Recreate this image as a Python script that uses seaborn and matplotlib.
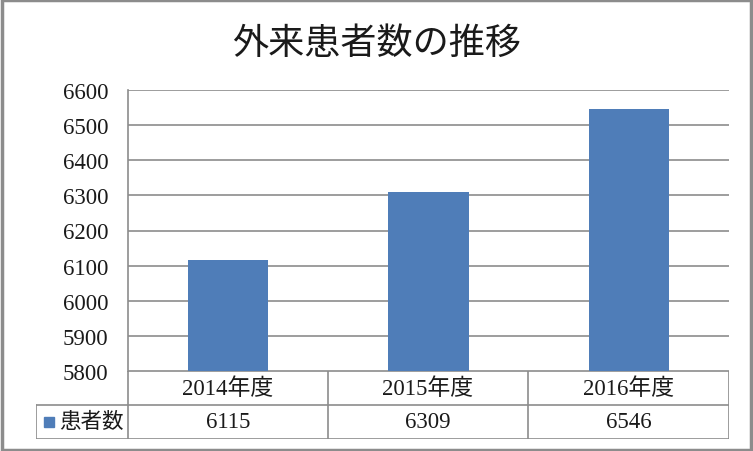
import matplotlib
matplotlib.use("Agg")

import matplotlib.pyplot as plt
import seaborn as sns
import pandas as pd
from matplotlib.patches import Rectangle

sns.set_theme(style="white")
plt.rcParams["font.family"] = ["Liberation Serif", "Noto Sans CJK JP", "DejaVu Sans"]

# data
years = ["2014年度", "2015年度", "2016年度"]
patients = [6115, 6309, 6546]
series_name = "患者数"
title = "外来患者数の推移"
y_ticks = [5800, 5900, 6000, 6100, 6200, 6300, 6400, 6500, 6600]

BAR_COLOR = "#4F7DB8"
GRID = "#8c8c8c"
TXT = "#1a1a1a"
W, H = 753, 452

df = pd.DataFrame({"year": years, "count": patients})

fig = plt.figure(figsize=(W / 100, H / 100), dpi=100)

# outer chart border
fig.add_artist(Rectangle((0.002, 0.003), 0.995, 0.994, transform=fig.transFigure,
                         fill=False, edgecolor="#8c8c8c", linewidth=2.5))


def fx(px):
    return px / W


def fy(py):
    return 1 - py / H


ax = fig.add_axes([fx(128), fy(372), fx(729) - fx(128), fy(91) - fy(372)])
sns.barplot(data=df, x="year", y="count", color=BAR_COLOR, width=0.4,
            saturation=1, linewidth=0, ax=ax, zorder=3)
ax.set_ylim(y_ticks[0], y_ticks[-1])
ax.set_yticks(y_ticks)
ax.set_yticklabels([str(t) for t in y_ticks], fontsize=16.5, color=TXT)
ax.tick_params(axis="y", length=0, pad=14)
ax.set_xticks([])
ax.set_xlabel("")
ax.set_ylabel("")
ax.yaxis.grid(True, color=GRID, linewidth=1.2, zorder=0)
ax.set_axisbelow(True)
for side in ["top", "right", "bottom"]:
    ax.spines[side].set_visible(False)
ax.spines["left"].set_color(GRID)
ax.spines["left"].set_linewidth(1.2)

# data table beneath the plot
tab = fig.add_axes([fx(36), fy(440), fx(729) - fx(36), fy(372) - fy(440)])
tab.set_xlim(36, 729)
tab.set_ylim(440, 372)
tab.axis("off")
cols = [128, 328, 528, 729]
lw = 1.2
tab.plot([128, 729], [372, 372], color=GRID, lw=lw)
tab.plot([36, 729], [406, 406], color=GRID, lw=lw)
tab.plot([36, 729], [440, 440], color=GRID, lw=lw)
tab.plot([36, 36], [406, 440], color=GRID, lw=lw)
for c in cols:
    tab.plot([c, c], [372, 440], color=GRID, lw=lw)

for i, (yr, val) in enumerate(zip(years, patients)):
    cx = (cols[i] + cols[i + 1]) / 2
    tab.text(cx, 389, yr, ha="center", va="center", fontsize=16.5, color=TXT)
    tab.text(cx, 423, str(val), ha="center", va="center", fontsize=16.5, color=TXT)

tab.add_patch(Rectangle((44, 418), 10, 10, color=BAR_COLOR))
tab.text(59, 423, series_name, ha="left", va="center", fontsize=15.5, color=TXT)

fig.text(0.5, fy(44), title, ha="center", va="center", fontsize=26,
         family=["Noto Sans CJK JP", "DejaVu Sans"], color=TXT)

fig.savefig("out.png", dpi=100)
